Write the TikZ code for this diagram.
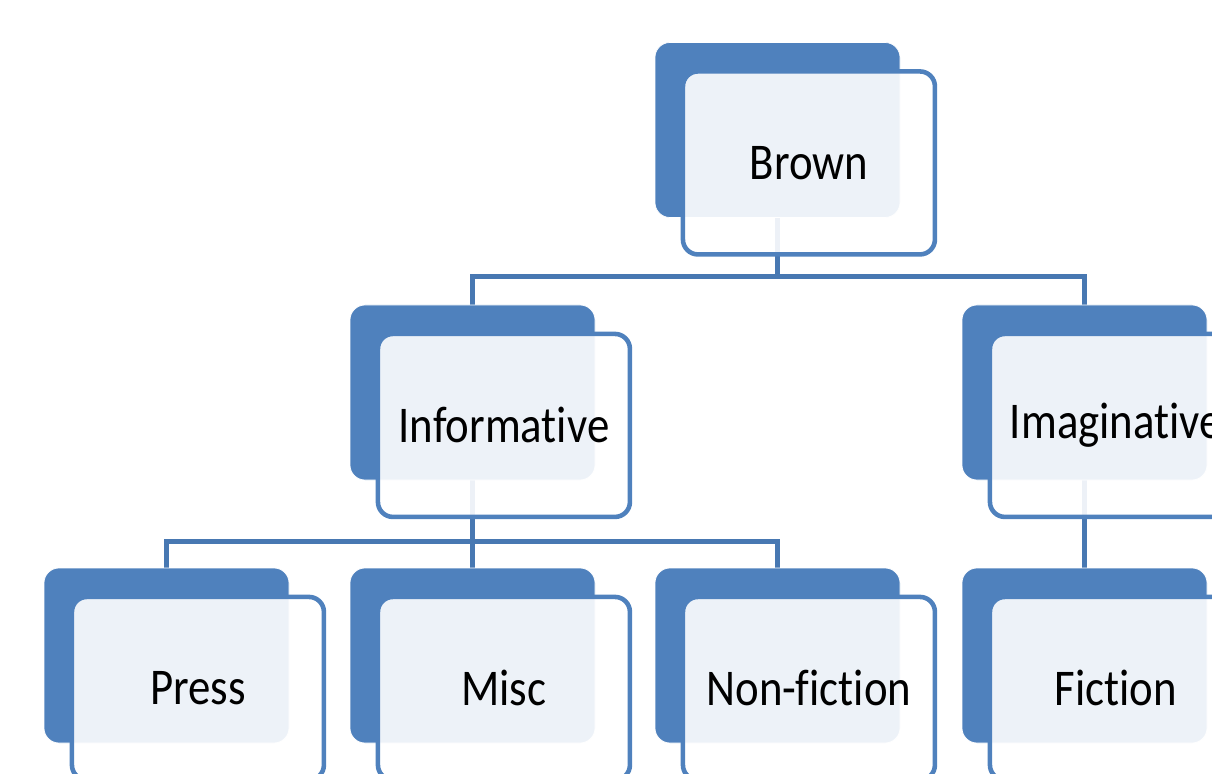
\documentclass[tikz,border=0pt]{standalone}
\usepackage{fontspec}
\setmainfont{Carlito}[Ligatures={NoCommon}]
\usetikzlibrary{positioning}
\usetikzlibrary{backgrounds}
\definecolor{boxblue}{HTML}{4F81BD}
\definecolor{linkblue}{HTML}{4878B2}
\newcommand{\tall}[1]{\scalebox{1}[1.15]{#1}}

\begin{document}
\begin{tikzpicture}[
  back/.style={rectangle,rounded corners=0.3cm,fill=boxblue,draw=white,thin,minimum width=4.9cm,minimum height=3.5cm},
  front/.style={rectangle,rounded corners=0.3cm,draw=boxblue,line width=2.6pt,fill=white,fill opacity=0.9,text opacity=1,text=black,minimum width=5.04cm,minimum height=3.66cm,font=\fontsize{25.5}{31}\selectfont},
  link/.style={draw=linkblue,line width=2.7pt}]
\useasboundingbox (0,0) rectangle (24.24,15.46);

\node[back] (bBrown) at (15.55,12.86) {};
\node[front,below right=0.54cm and 0.52cm of bBrown.north west] (fBrown) {\tall{Brown}};

\node[back] (bInform) at (9.45,7.61) {};
\node[front,below right=0.54cm and 0.52cm of bInform.north west] (fInform) {\tall{Informative}};
\node[back] (bImagin) at (21.69,7.61) {};
\node[front,below right=0.54cm and 0.52cm of bImagin.north west] (fImagin) {\tall{Imaginative}};

\node[back] (bPress) at (3.33,2.35) {};
\node[front,below right=0.54cm and 0.52cm of bPress.north west] (fPress) {\tall{Press}};
\node[back] (bMisc) at (9.45,2.35) {};
\node[front,below right=0.54cm and 0.52cm of bMisc.north west] (fMisc) {\tall{Misc}};
\node[back] (bNonfic) at (15.55,2.35) {};
\node[front,below right=0.54cm and 0.52cm of bNonfic.north west] (fNonfic) {\tall{Non-fiction}};
\node[back] (bFiction) at (21.69,2.35) {};
\node[front,below right=0.54cm and 0.52cm of bFiction.north west] (fFiction) {\tall{Fiction}};

\begin{scope}[on background layer]
\draw[link] (bBrown.south) -- ++(0,-1.18) coordinate (jTop) -| (bInform.north);
\draw[link] (jTop) -| (bImagin.north);
\draw[link] (bInform.south) -- ++(0,-1.22) coordinate (jMid) -| (bPress.north);
\draw[link] (jMid) -| (bMisc.north);
\draw[link] (jMid) -| (bNonfic.north);
\draw[link] (bImagin.south) -- (bFiction.north);
\end{scope}

\end{tikzpicture}
\end{document}
